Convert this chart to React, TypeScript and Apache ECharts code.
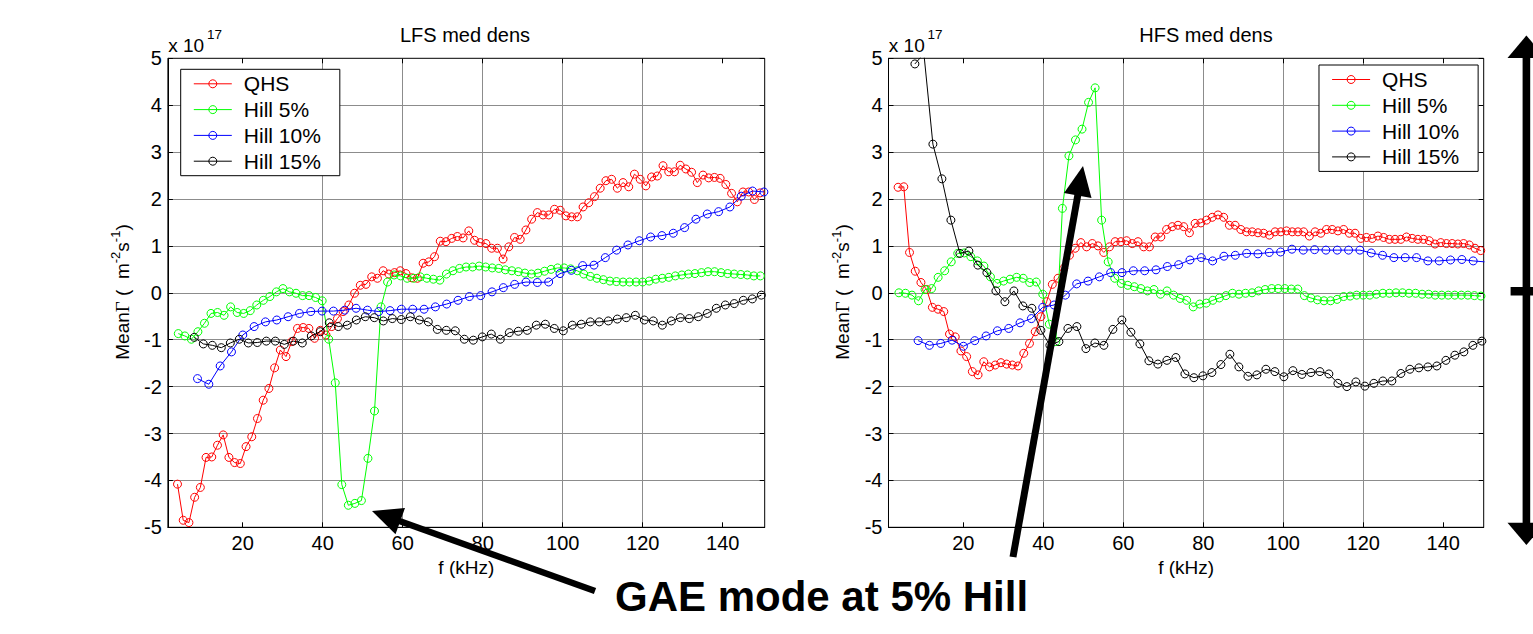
import React, { useEffect, useRef } from 'react';
import * as echarts from 'echarts';

// ---------- data ----------
const SERIES_NAMES = ['QHS', 'Hill 5%', 'Hill 10%', 'Hill 15%'];
const SERIES_COLORS = ['#ff0000', '#00ff00', '#0000ff', '#000000'];
// frequency sampling of each data set (first frequency, spacing) in kHz
const F_START = [3.7, 3.9, 8.7, 7.9];
const F_STEP = [1.428, 1.635, 2.832, 2.25];

const X_TICKS = [20, 40, 60, 80, 100, 120, 140];
const Y_MIN = -5;
const Y_MAX = 5;
const Y_STEP = 1;
const X_MIN = 1.3;

const LFS_QHS = [
  -4.08, -4.85, -4.9, -4.36, -4.15, -3.51, -3.5, -3.25, -3.03, -3.51,
  -3.62, -3.64, -3.28, -3.07, -2.68, -2.29, -2.04, -1.6, -1.22, -1.36,
  -1.04, -0.76, -0.74, -0.76, -0.97, -0.8, -0.9, -0.72, -0.55, -0.4,
  -0.26, -0.01, 0.16, 0.18, 0.34, 0.31, 0.47, 0.4, 0.43, 0.47,
  0.41, 0.32, 0.31, 0.63, 0.66, 0.77, 1.1, 1.09, 1.16, 1.2,
  1.17, 1.32, 1.12, 1.07, 1.05, 0.95, 0.95, 0.72, 0.98, 1.18,
  1.14, 1.34, 1.57, 1.71, 1.66, 1.66, 1.78, 1.76, 1.64, 1.62,
  1.62, 1.83, 1.92, 2.05, 2.23, 2.39, 2.42, 2.23, 2.35, 2.26,
  2.53, 2.42, 2.28, 2.47, 2.49, 2.71, 2.58, 2.58, 2.72, 2.64,
  2.57, 2.35, 2.51, 2.45, 2.46, 2.44, 2.31, 2.12, 1.94, 2.15,
  2.15, 1.99, 2.13,
];
const LFS_HILL5 = [
  -0.87, -0.92, -0.99, -0.83, -0.65, -0.44, -0.42, -0.48, -0.3, -0.42,
  -0.44, -0.38, -0.26, -0.16, -0.08, 0.02, 0.09, 0.02, -0.01, -0.06,
  -0.06, -0.1, -0.17, -0.99, -1.92, -4.09, -4.53, -4.49, -4.43, -3.53,
  -2.52, -0.3, 0.23, 0.38, 0.36, 0.31, 0.31, 0.34, 0.31, 0.29,
  0.27, 0.4, 0.47, 0.52, 0.55, 0.55, 0.57, 0.55, 0.53, 0.52,
  0.49, 0.47, 0.45, 0.42, 0.4, 0.42, 0.46, 0.5, 0.53, 0.53,
  0.51, 0.47, 0.4, 0.35, 0.31, 0.28, 0.25, 0.24, 0.23, 0.23,
  0.23, 0.23, 0.25, 0.29, 0.31, 0.33, 0.36, 0.38, 0.4, 0.41,
  0.43, 0.45, 0.45, 0.43, 0.41, 0.4, 0.39, 0.38, 0.36, 0.36,
];
const LFS_HILL10 = [
  -1.83, -1.95, -1.56, -1.26, -0.9, -0.72, -0.62, -0.58, -0.51, -0.44,
  -0.4, -0.39, -0.39, -0.37, -0.33, -0.37, -0.4, -0.38, -0.35, -0.35,
  -0.35, -0.3, -0.24, -0.16, -0.08, -0.06, 0.02, 0.11, 0.18, 0.23,
  0.22, 0.23, 0.41, 0.48, 0.58, 0.59, 0.75, 0.91, 1.02, 1.11,
  1.19, 1.22, 1.27, 1.39, 1.57, 1.68, 1.73, 1.83, 2.06, 2.17,
  2.15,
];
const LFS_HILL15 = [
  -0.95, -1.09, -1.12, -1.17, -1.07, -0.99, -1.07, -1.06, -1.03, -1.03,
  -1.1, -1.03, -1.07, -0.92, -0.83, -0.64, -0.72, -0.69, -0.58, -0.51,
  -0.53, -0.6, -0.55, -0.57, -0.51, -0.58, -0.62, -0.78, -0.8, -0.81,
  -0.99, -1.01, -0.94, -0.88, -0.99, -0.85, -0.82, -0.8, -0.69, -0.67,
  -0.76, -0.81, -0.69, -0.67, -0.62, -0.62, -0.6, -0.56, -0.53, -0.48,
  -0.58, -0.6, -0.69, -0.6, -0.53, -0.55, -0.51, -0.44, -0.33, -0.26,
  -0.23, -0.16, -0.13, -0.05,
];

const HFS_QHS = [
  2.25, 2.26, 0.86, 0.46, 0.22, 0.07, -0.31, -0.35, -0.4, -0.88,
  -0.94, -1.24, -1.36, -1.68, -1.75, -1.47, -1.58, -1.54, -1.49, -1.52,
  -1.54, -1.56, -1.29, -1.08, -0.83, -0.51, -0.19, 0.18, 0.31, 0.52,
  0.8, 0.95, 1.07, 0.98, 1.05, 1.0, 0.86, 0.98, 1.09, 1.09,
  1.11, 1.05, 1.09, 0.98, 0.98, 1.19, 1.19, 1.35, 1.41, 1.44,
  1.41, 1.28, 1.48, 1.49, 1.55, 1.61, 1.66, 1.61, 1.44, 1.44,
  1.35, 1.3, 1.3, 1.28, 1.27, 1.23, 1.3, 1.3, 1.32, 1.3,
  1.3, 1.3, 1.21, 1.3, 1.27, 1.35, 1.35, 1.32, 1.35, 1.27,
  1.27, 1.16, 1.18, 1.16, 1.21, 1.18, 1.14, 1.14, 1.14, 1.19,
  1.16, 1.14, 1.14, 1.11, 1.04, 1.07, 1.05, 1.05, 1.04, 1.05,
  1.02, 0.95, 0.9,
];
const HFS_HILL5 = [
  0.0, -0.01, -0.05, -0.17, 0.07, 0.09, 0.33, 0.47, 0.66, 0.84,
  0.85, 0.77, 0.68, 0.57, 0.34, 0.2, 0.25, 0.29, 0.33, 0.31,
  0.22, 0.23, -0.03, -0.67, -1.04, 1.8, 2.92, 3.26, 3.49, 4.06,
  4.37, 1.55, 0.66, 0.31, 0.2, 0.16, 0.13, 0.09, 0.04, 0.07,
  -0.03, 0.04, -0.05, -0.12, -0.16, -0.3, -0.24, -0.22, -0.16, -0.11,
  -0.06, -0.01, -0.03, -0.01, 0.0, 0.04, 0.07, 0.09, 0.09, 0.09,
  0.08, 0.08, -0.06, -0.11, -0.15, -0.17, -0.17, -0.14, -0.08, -0.07,
  -0.05, -0.05, -0.05, -0.03, -0.01, -0.01, 0.0, 0.0, -0.01, -0.01,
  -0.03, -0.03, -0.05, -0.05, -0.05, -0.05, -0.05, -0.05, -0.06, -0.07,
];
const HFS_HILL10 = [
  -1.02, -1.12, -1.08, -1.01, -1.14, -1.02, -0.92, -0.81, -0.76, -0.64,
  -0.55, -0.31, -0.26, -0.05, 0.19, 0.25, 0.34, 0.43, 0.43, 0.47,
  0.47, 0.49, 0.56, 0.6, 0.7, 0.75, 0.68, 0.78, 0.8, 0.84,
  0.83, 0.86, 0.87, 0.93, 0.91, 0.92, 0.91, 0.91, 0.91, 0.91,
  0.85, 0.8, 0.75, 0.75, 0.75, 0.68, 0.68, 0.7, 0.71, 0.68,
  0.66,
];
const HFS_HILL15 = [
  4.88, 5.1, 3.17, 2.43, 1.55, 0.84, 0.89, 0.59, 0.43, 0.04,
  -0.19, 0.04, -0.28, -0.33, -0.8, -1.12, -1.04, -0.76, -0.72, -1.19,
  -1.07, -1.12, -0.78, -0.58, -0.84, -1.09, -1.45, -1.52, -1.44, -1.38,
  -1.73, -1.81, -1.77, -1.7, -1.53, -1.31, -1.58, -1.78, -1.75, -1.63,
  -1.68, -1.79, -1.66, -1.74, -1.7, -1.68, -1.73, -1.93, -2.0, -1.9,
  -1.99, -1.93, -1.88, -1.88, -1.72, -1.63, -1.6, -1.58, -1.56, -1.44,
  -1.33, -1.26, -1.12, -1.03,
];

// ---------- layout ----------
const FONT = "'Liberation Sans', Arial, Helvetica, sans-serif";
const GRID_TOP = 58.3;
const GRID_H = 469;
const TICK_FONT = 20;

const PANELS = [
  {
    title: 'LFS med dens',
    data: [LFS_QHS, LFS_HILL5, LFS_HILL10, LFS_HILL15],
    left: 167.9,
    xMax: 150.5,
    width: 596.8,
    titleX: 465,
    legendLeft: 180.7,
    legendTop: 69.3,
  },
  {
    title: 'HFS med dens',
    data: [HFS_QHS, HFS_HILL5, HFS_HILL10, HFS_HILL15],
    left: 888.5,
    xMax: 150.1,
    width: 595.2,
    titleX: 1206,
    legendLeft: 1319,
    legendTop: 65,
  },
];

function toPoints(start: number, step: number, values: number[]) {
  return values.map((v, i) => [Number((start + i * step).toFixed(3)), v]);
}

function buildOption(): any {
  const grid: any[] = [];
  const xAxis: any[] = [];
  const yAxis: any[] = [];
  const series: any[] = [];
  const legend: any[] = [];
  const elements: any[] = [];

  PANELS.forEach((p, i) => {
    grid.push({
      left: p.left,
      top: GRID_TOP,
      width: p.width,
      height: GRID_H,
      show: true,
      borderColor: '#000',
      borderWidth: 1,
      backgroundColor: 'rgba(0,0,0,0)',
    });
    xAxis.push({
      type: 'value',
      gridIndex: i,
      position: 'bottom',
      min: X_MIN,
      max: p.xMax,
      splitNumber: 7,
      axisLine: { show: true, onZero: false, lineStyle: { color: '#000', width: 1 } },
      axisTick: { show: true, inside: true, length: 5, customValues: X_TICKS, lineStyle: { color: '#000' } },
      axisLabel: { show: true, customValues: X_TICKS, fontSize: TICK_FONT, color: '#000', fontFamily: FONT, margin: 6 },
      splitLine: { show: true, showMinLine: false, showMaxLine: false, lineStyle: { color: '#8c8c8c', width: 1 } },
      name: 'f (kHz)',
      nameLocation: 'middle',
      nameGap: 24,
      nameTextStyle: { fontSize: 19, color: '#000', fontFamily: FONT },
    });
    xAxis.push({
      type: 'value',
      gridIndex: i,
      position: 'top',
      min: X_MIN,
      max: p.xMax,
      splitNumber: 7,
      axisLine: { show: false, onZero: false },
      axisTick: { show: true, inside: true, length: 5, customValues: X_TICKS, lineStyle: { color: '#000' } },
      axisLabel: { show: false },
      splitLine: { show: false },
    });
    yAxis.push({
      type: 'value',
      gridIndex: i,
      position: 'left',
      min: Y_MIN,
      max: Y_MAX,
      interval: Y_STEP,
      axisLine: { show: true, onZero: false, lineStyle: { color: '#000', width: 1 } },
      axisTick: { show: true, inside: true, length: 5, lineStyle: { color: '#000' } },
      axisLabel: { show: true, fontSize: TICK_FONT, color: '#000', fontFamily: FONT, margin: 6 },
      splitLine: { show: true, showMinLine: false, showMaxLine: false, lineStyle: { color: '#8c8c8c', width: 1 } },
    });
    yAxis.push({
      type: 'value',
      gridIndex: i,
      position: 'right',
      min: Y_MIN,
      max: Y_MAX,
      interval: Y_STEP,
      axisLine: { show: false, onZero: false },
      axisTick: { show: true, inside: true, length: 5, lineStyle: { color: '#000' } },
      axisLabel: { show: false },
      splitLine: { show: false },
    });

    p.data.forEach((vals, k) => {
      series.push({
        type: 'line',
        name: SERIES_NAMES[k],
        xAxisIndex: 2 * i,
        yAxisIndex: 2 * i,
        data: toPoints(F_START[k], F_STEP[k], vals),
        symbol: 'circle',
        symbolSize: 8,
        showSymbol: true,
        clip: true,
        silent: true,
        itemStyle: { color: 'rgba(0,0,0,0)', borderColor: SERIES_COLORS[k], borderWidth: 1 },
        lineStyle: { color: SERIES_COLORS[k], width: 1 },
        emphasis: { disabled: true },
        z: 2 + k * 0.01,
      });
    });

    legend.push({
      left: p.legendLeft,
      top: p.legendTop,
      orient: 'vertical',
      data: SERIES_NAMES,
      selectedMode: false,
      itemWidth: 38,
      itemHeight: 10,
      itemGap: 4.8,
      padding: [4, 19, 4, 12.6],
      borderColor: '#000',
      borderWidth: 1,
      backgroundColor: '#fff',
      itemStyle: { borderWidth: 1 },
      lineStyle: { width: 1 },
      textStyle: { fontSize: 21, lineHeight: 21, color: '#000', fontFamily: FONT, padding: [0, 0, 0, 7] },
      z: 10,
    });

    const dx = p.left - PANELS[0].left;
    elements.push(
      {
        type: 'text',
        x: p.titleX,
        y: 35,
        style: { text: p.title, fontSize: 20, fontFamily: FONT, fill: '#000', align: 'center', verticalAlign: 'middle' },
      },
      {
        type: 'text',
        x: p.left + 0.3,
        y: 45.5,
        style: { text: 'x 10', fontSize: 19, fontFamily: FONT, fill: '#000', align: 'left', verticalAlign: 'middle' },
      },
      {
        type: 'text',
        x: p.left + 39,
        y: 34.5,
        style: { text: '17', fontSize: 13.5, fontFamily: FONT, fill: '#000', align: 'left', verticalAlign: 'middle' },
      },
      {
        type: 'text',
        x: 122 + dx,
        y: 292,
        rotation: Math.PI / 2,
        style: {
          text: 'Mean{g|Γ} (  m{sup|-2}s{sup|-1})',
          fontSize: 19,
          lineHeight: 26,
          fontFamily: FONT,
          fill: '#000',
          align: 'center',
          verticalAlign: 'middle',
          rich: {
            g: { fontSize: 19, lineHeight: 26, fontFamily: "'Liberation Serif', 'DejaVu Serif', serif", fill: '#000' },
            sup: { fontSize: 13, lineHeight: 13, verticalAlign: 'top', fontFamily: FONT, fill: '#000' },
          },
        },
      }
    );
  });

  // annotation arrows and text
  elements.push(
    {
      type: 'line',
      shape: { x1: 595, y1: 591, x2: 398, y2: 520.5 },
      style: { stroke: '#000', lineWidth: 6.5 },
      z: 20,
    },
    {
      type: 'polygon',
      shape: { points: [[372, 511], [405, 508], [395.5, 534.3]] },
      style: { fill: '#000' },
      z: 20,
    },
    {
      type: 'line',
      shape: { x1: 1013, y1: 557, x2: 1078.2, y2: 193 },
      style: { stroke: '#000', lineWidth: 7 },
      z: 20,
    },
    {
      type: 'polygon',
      shape: { points: [[1083, 166], [1064, 193], [1091.5, 198]] },
      style: { fill: '#000' },
      z: 20,
    },
    {
      type: 'text',
      x: 615,
      y: 596,
      style: {
        text: 'GAE mode at 5% Hill',
        fontSize: 42,
        fontWeight: 'bold',
        fontFamily: FONT,
        fill: '#000',
        align: 'left',
        verticalAlign: 'middle',
      },
      z: 20,
    },
    {
      type: 'rect',
      shape: { x: 1522.6, y: 56, width: 7.6, height: 468 },
      style: { fill: '#000' },
      z: 20,
    },
    {
      type: 'polygon',
      shape: { points: [[1526.4, 35.5], [1507.5, 58], [1545.3, 58]] },
      style: { fill: '#000' },
      z: 20,
    },
    {
      type: 'polygon',
      shape: { points: [[1526.4, 545], [1507.5, 522.8], [1545.3, 522.8]] },
      style: { fill: '#000' },
      z: 20,
    },
    {
      type: 'rect',
      shape: { x: 1510.6, y: 287, width: 34.4, height: 8.5 },
      style: { fill: '#000' },
      z: 20,
    }
  );

  return {
    animation: false,
    backgroundColor: '#fff',
    textStyle: { fontFamily: FONT },
    grid,
    xAxis,
    yAxis,
    series,
    legend,
    graphic: { elements },
  };
}

export default function App() {
  const ref = useRef<HTMLDivElement>(null);
  useEffect(() => {
    document.body.style.margin = '0';
    const chart = echarts.init(ref.current as HTMLDivElement, null, { renderer: 'svg' });
    chart.setOption(buildOption());
    return () => {
      chart.dispose();
    };
  }, []);
  return <div ref={ref} style={{ width: 1533, height: 634, background: '#fff' }} />;
}
